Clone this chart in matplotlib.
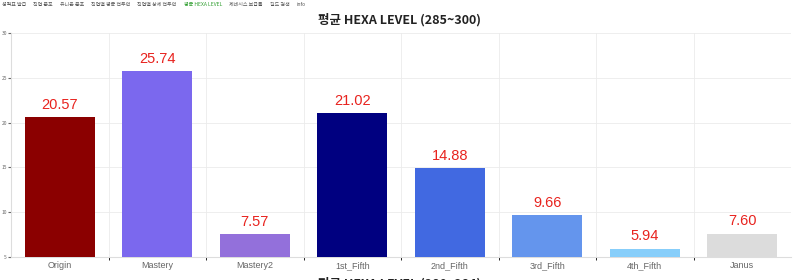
import matplotlib
matplotlib.use("Agg")
import matplotlib.pyplot as plt

plt.rcParams['font.family'] = ['Noto Sans CJK KR', 'DejaVu Sans']

# 데이터
categories = ['Origin', 'Mastery', 'Mastery2', '1st_Fifth', '2nd_Fifth', '3rd_Fifth', '4th_Fifth', 'Janus']
values = [20.57, 25.74, 7.57, 21.02, 14.88, 9.66, 5.94, 7.60]
colors = ['#8B0000', '#7B68EE', '#9370DB', '#000080', '#4169E1', '#6495ED', '#87CEFA', '#DCDCDC']
yticks = [5, 10, 15, 20, 25, 30]
nav_items = ['성적표 발급', '직업 분포', '유니온 분포', '직업별 평균 전투력', '직업별 상세 전투력',
             '평균 HEXA LEVEL', '제네시스 보급률', '길드 검색', 'info']

fig = plt.figure(figsize=(8, 2.8), dpi=100)
ax = fig.add_axes([11 / 800, 23 / 280, 780 / 800, 224 / 280])

x = list(range(len(categories)))
bars = ax.bar(x, values, width=0.72, color=colors, zorder=3)
for b, v in zip(bars, values):
    ax.text(b.get_x() + b.get_width() / 2, v + 0.6, f'{v:.2f}', ha='center', va='bottom',
            color='#E8231E', fontsize=10.5, family=['Liberation Sans', 'DejaVu Sans'], zorder=4)

ax.set_xlim(-0.5, len(categories) - 0.5)
ax.set_ylim(5, 30)
ax.set_yticks(yticks)
ax.set_xticks(x)
ax.set_xticklabels(categories, fontsize=6.5, color='#666666', family=['Liberation Sans', 'DejaVu Sans'])
ax.tick_params(axis='y', labelsize=3.5, colors='#666666', length=2, pad=1)
ax.tick_params(axis='x', length=0, pad=3)
ax.set_xticks([i + 0.5 for i in x[:-1]], minor=True)
ax.grid(axis='y', color='#EBEBEB', linewidth=0.6, zorder=0)
ax.grid(axis='x', which='minor', color='#EBEBEB', linewidth=0.6, zorder=0)
for s in ['top', 'right']:
    ax.spines[s].set_visible(False)
ax.spines['left'].set_color('#DDDDDD')
ax.spines['bottom'].set_color('#DDDDDD')

# 제목
fig.text(0.5, 1 - 20 / 280, '평균 HEXA LEVEL (285~300)', ha='center', va='center',
         fontsize=9, fontweight='bold', color='#222222')
# 아래쪽 다음 차트 제목 (잘림)
fig.text(0.5, -4 / 280, '평균 HEXA LEVEL (280~284)', ha='center', va='center',
         fontsize=9, fontweight='bold', color='#222222')

# 상단 메뉴
xpos = 2
for item in nav_items:
    c = '#2E9E2E' if item == '평균 HEXA LEVEL' else '#555555'
    t = fig.text(xpos / 800, 1 - 4 / 280, item, ha='left', va='center', fontsize=3.6, color=c)
    fig.canvas.draw()
    bb = t.get_window_extent()
    xpos += bb.width + 7

fig.savefig('out.png', dpi=100)
